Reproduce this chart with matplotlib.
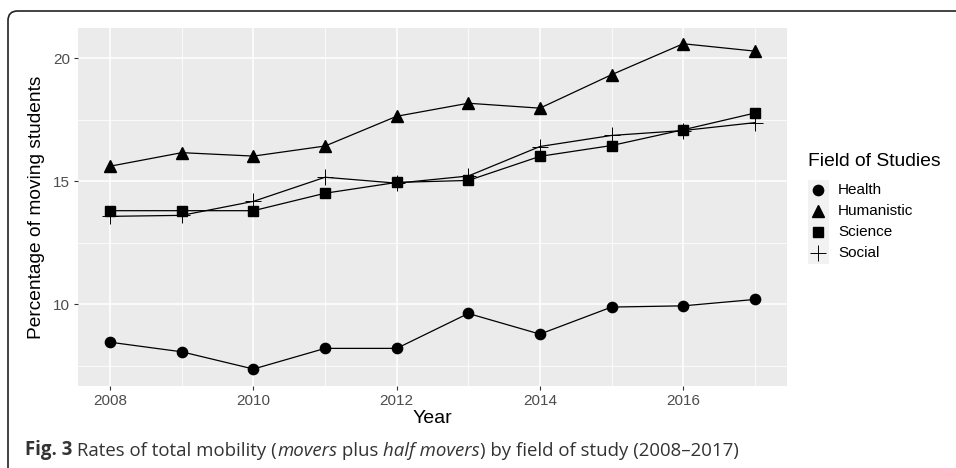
import matplotlib.pyplot as plt
from matplotlib.lines import Line2D
from matplotlib.patches import FancyBboxPatch, Rectangle

# Data
years = [2008, 2009, 2010, 2011, 2012, 2013, 2014, 2015, 2016, 2017]
health = [8.46, 8.07, 7.37, 8.21, 8.21, 9.63, 8.79, 9.89, 9.94, 10.20]
humanistic = [15.62, 16.17, 16.03, 16.44, 17.65, 18.18, 17.98, 19.34, 20.60, 20.30]
science = [13.81, 13.81, 13.81, 14.52, 14.96, 15.04, 16.02, 16.46, 17.10, 17.78]
social = [13.58, 13.62, 14.19, 15.17, 14.93, 15.22, 16.42, 16.87, 17.07, 17.39]

series_names = ["Health", "Humanistic", "Science", "Social"]
series_values = [health, humanistic, science, social]
x_ticks = [2008, 2010, 2012, 2014, 2016]
y_ticks = [10, 15, 20]

W, H = 956, 468
plt.rcParams['font.family'] = ['Liberation Sans', 'DejaVu Sans']

fig = plt.figure(figsize=(W / 100, H / 100), dpi=100)

def px(x, y):
    # pixel coords (top-left origin) -> figure fraction
    return x / W, 1 - y / H

# rounded frame around the figure
frame = FancyBboxPatch(px(8, 600), 1100 / W, (600 - 11) / H,
                       boxstyle="round,pad=0,rounding_size=0.01",
                       transform=fig.transFigure, fill=False,
                       edgecolor="#222222", linewidth=1.2, mutation_aspect=W / H)
fig.add_artist(frame)

left, top, right, bottom = 78, 28, 787, 386
ax = fig.add_axes([left / W, 1 - bottom / H, (right - left) / W, (bottom - top) / H])
ax.set_facecolor("#EBEBEB")
for s in ax.spines.values():
    s.set_visible(False)

styles = {
    "Health": dict(marker="o", markersize=7.4),
    "Humanistic": dict(marker="^", markersize=9.2),
    "Science": dict(marker="s", markersize=7.2),
    "Social": dict(marker="+", markersize=11, markeredgewidth=0.7),
}
for name, vals in zip(series_names, series_values):
    ax.plot(years, vals, color="black", linewidth=0.9, **styles[name])

ax.set_xlim(2007.55, 2017.45)
ax.set_ylim(6.68, 21.24)
ax.set_xticks(x_ticks)
ax.set_yticks(y_ticks)
ax.set_xticks([2009, 2011, 2013, 2015, 2017], minor=True)
ax.set_yticks([7.5, 12.5, 17.5], minor=True)
ax.grid(which="major", color="white", linewidth=1.1)
ax.grid(which="minor", color="white", linewidth=0.55)
ax.set_axisbelow(True)
ax.tick_params(which="major", length=3, width=0.8, color="#333333",
               labelsize=11, labelcolor="#4D4D4D", pad=2.5)
ax.tick_params(which="minor", length=0)

ax.set_xlabel("Year", fontsize=14, color="black", labelpad=2)
ax.set_ylabel("Percentage of moving students", fontsize=13.8, color="black", labelpad=6)

# legend drawn in ggplot style
fig.text(*px(808, 162), "Field of Studies", fontsize=13.9, va="center", ha="left")
fig.add_artist(Rectangle(px(808, 264), 21 / W, 84 / H, transform=fig.transFigure,
                         facecolor="#F2F2F2", edgecolor="none"))
for i, name in enumerate(series_names):
    ky = 190 + i * 21
    st = dict(styles[name])
    fig.add_artist(Line2D([818 / W], [1 - ky / H], transform=fig.transFigure,
                          color="black", linestyle="none", **st))
    fig.text(*px(838, ky), name, fontsize=11, va="center", ha="left")

# caption with mixed styles
cap_font = ['Open Sans', 'DejaVu Sans']
cap_color = "#333333"
parts = [("Fig. 3", "bold", "normal"),
         (" Rates of total mobility (", "normal", "normal"),
         ("movers", "normal", "italic"),
         (" plus ", "normal", "normal"),
         ("half movers", "normal", "italic"),
         (") by field of study (2008\u20132017)", "normal", "normal")]
prev = None
for txt, wt, st in parts:
    kw = dict(fontsize=13.4, family=cap_font, color=cap_color, weight=wt, style=st)
    if prev is None:
        prev = fig.text(*px(25, 455), txt, va="baseline", ha="left", **kw)
    else:
        prev = ax.annotate(txt, xy=(1, 0), xycoords=prev, va="bottom", ha="left",
                           annotation_clip=False, **kw)

fig.savefig("out.png", dpi=100)
